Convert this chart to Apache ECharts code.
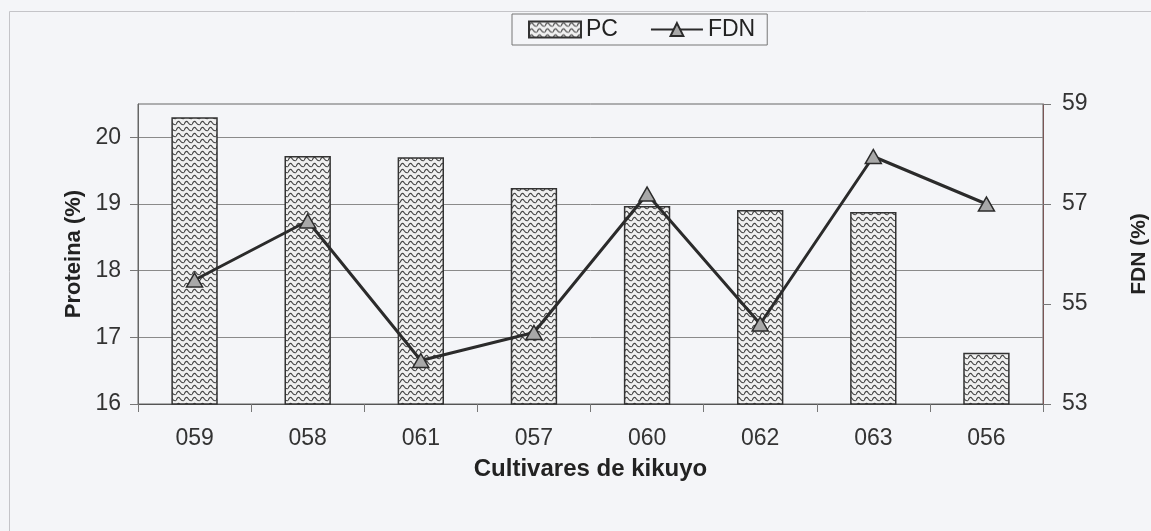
<!DOCTYPE html>
<html>
<head>
<meta charset="utf-8">
<script src="https://cdn.jsdelivr.net/npm/echarts@6/dist/echarts.min.js"></script>
<style>
  html, body { margin: 0; padding: 0; background: #f4f5f8; overflow: hidden; }
  #chart { width: 1151px; height: 531px; }
</style>
</head>
<body>
<div id="chart"></div>
<script>
// data
const cultivares = ['059', '058', '061', '057', '060', '062', '063', '056'];
const proteina = [20.3, 19.72, 19.7, 19.24, 18.97, 18.91, 18.88, 16.77];
const fdn = [55.48, 56.66, 53.87, 54.43, 57.2, 54.6, 57.95, 57.0];
const leftTicks = [16, 17, 18, 19, 20];

// wavy hatch for the bars
const makeWave = () => {
    const c = document.createElement('canvas');
    c.width = 8; c.height = 6;
    const ctx = c.getContext('2d');
    ctx.fillStyle = '#f0f0f0';
    ctx.fillRect(0, 0, 8, 6);
    ctx.strokeStyle = '#444';
    ctx.lineWidth = 1.1;
    ctx.beginPath();
    ctx.moveTo(0, 4.5);
    ctx.quadraticCurveTo(2, -0.5, 4, 2.5);
    ctx.quadraticCurveTo(6, 5.5, 8, 4.5);
    ctx.stroke();
    return c;
};

const chart = echarts.init(document.getElementById('chart'));
const font = 'Liberation Sans, Arial, sans-serif';

chart.setOption({
    animation: false,
    backgroundColor: '#f4f5f8',
    textStyle: { fontFamily: font },
    graphic: [{
        type: 'rect',
        shape: { x: 9.5, y: 11.5, width: 1145, height: 525 },
        style: { fill: 'none', stroke: '#c4c4c8', lineWidth: 1 },
        silent: true
    }],
    legend: {
        top: 14,
        left: 512,
        itemGap: 32,
        itemWidth: 52,
        itemHeight: 16,
        padding: [4, 12, 4, 16],
        borderColor: '#777',
        borderWidth: 1,
        textStyle: { fontFamily: font, fontSize: 23, color: '#222' },
        data: [
            { name: 'PC', icon: 'rect' },
            { name: 'FDN' }
        ]
    },
    grid: {
        left: 138, right: 108, top: 104, bottom: 127,
        containLabel: false,
        outerBoundsMode: 'none',
        show: true, borderColor: '#666', borderWidth: 1,
        backgroundColor: 'transparent'
    },
    xAxis: {
        type: 'category',
        data: cultivares,
        name: 'Cultivares de kikuyo',
        nameLocation: 'middle',
        nameGap: 53,
        nameTextStyle: { fontSize: 24, fontWeight: 'bold', color: '#222', fontFamily: font },
        axisLine: { lineStyle: { color: '#555' } },
        axisTick: { show: true, length: 8, lineStyle: { color: '#777' } },
        axisLabel: { fontSize: 23, color: '#333', margin: 23, fontFamily: font }
    },
    yAxis: [
        {
            type: 'value',
            min: 16, max: 20.5, interval: 1,
            name: 'Proteina (%)',
            nameLocation: 'middle',
            nameGap: 52,
            nameRotate: 90,
            nameTextStyle: { fontSize: 22, fontWeight: 'bold', color: '#222', fontFamily: font },
            axisLine: { show: true, lineStyle: { color: '#666' } },
            axisTick: { show: true, length: 8, customValues: leftTicks, lineStyle: { color: '#777' } },
            axisLabel: {
                fontSize: 23, color: '#333', margin: 17, fontFamily: font,
                customValues: leftTicks
            },
            splitLine: { show: true, lineStyle: { color: '#8a8a8a', width: 1 } }
        },
        {
            type: 'value',
            min: 53, max: 59, interval: 2,
            name: 'FDN (%)',
            nameLocation: 'middle',
            nameGap: 86,
            nameRotate: 90,
            nameTextStyle: { fontSize: 21, fontWeight: 'bold', color: '#222', fontFamily: font },
            axisLine: { show: true, lineStyle: { color: '#7a5555' } },
            axisTick: { show: true, length: 8, lineStyle: { color: '#777' } },
            axisLabel: { fontSize: 23, color: '#333', margin: 19, fontFamily: font },
            splitLine: { show: false }
        }
    ],
    series: [
        {
            name: 'PC',
            type: 'bar',
            yAxisIndex: 0,
            data: proteina,
            barWidth: '41%',
            itemStyle: {
                color: { image: makeWave(), repeat: 'repeat' },
                borderColor: '#333',
                borderWidth: 1.5
            }
        },
        {
            name: 'FDN',
            type: 'line',
            yAxisIndex: 1,
            data: fdn,
            symbol: 'triangle',
            symbolSize: [16, 14],
            lineStyle: { color: '#2b2b2b', width: 3 },
            itemStyle: { color: '#a8a8a8', borderColor: '#2b2b2b', borderWidth: 1.5 },
            z: 3
        }
    ]
});
</script>
</body>
</html>
